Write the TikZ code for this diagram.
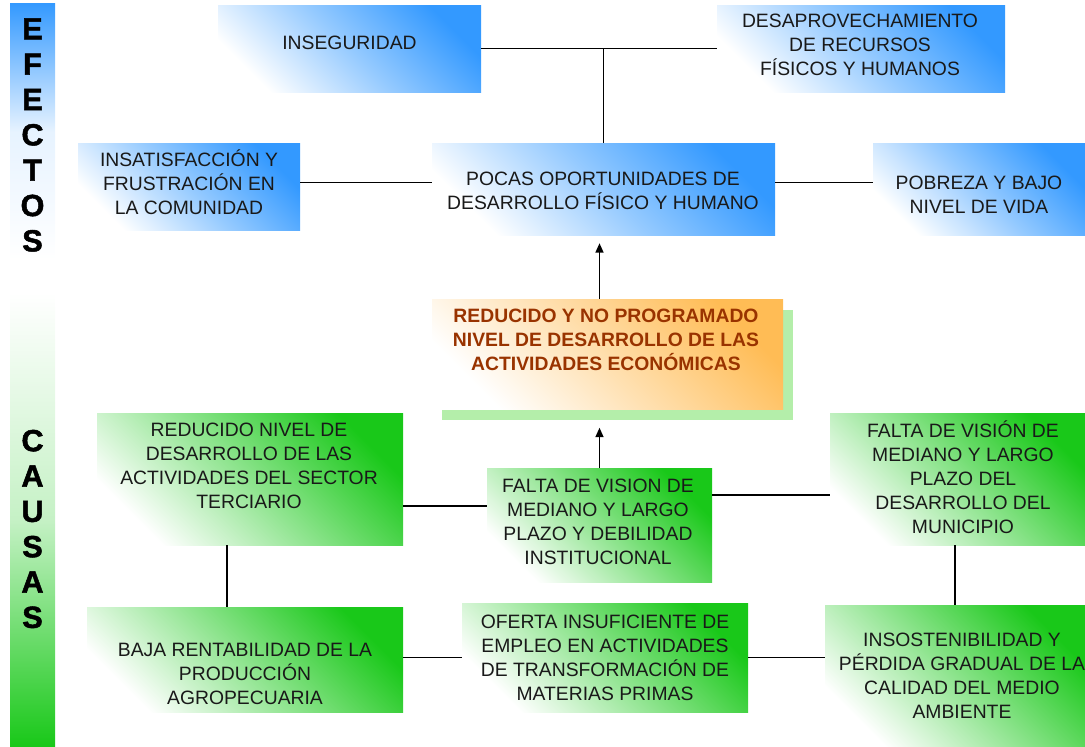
\documentclass[tikz,border=0pt]{standalone}
\usepackage{fontspec}
\setmainfont{Liberation Sans}
\newfontfamily\barfont[FakeBold=1.6]{Liberation Sans Bold}
\usetikzlibrary{arrows.meta,calc}
\definecolor{bxblue}{RGB}{51,153,255}
\definecolor{bxgreen}{RGB}{25,200,25}
\definecolor{bxorange}{RGB}{255,188,85}
\definecolor{shadowgreen}{RGB}{180,238,170}
\definecolor{titlered}{RGB}{153,51,0}
\definecolor{txtgray}{RGB}{25,25,25}
\begin{document}
\begin{tikzpicture}[x=0.75pt,y=-0.75pt,
  bluebox/.style={rectangle, inner sep=0pt, top color=bxblue, bottom color=white, middle color=bxblue!52, shading angle=-45},
  greenbox/.style={rectangle, inner sep=0pt, top color=bxgreen, bottom color=white, middle color=bxgreen!50, shading angle=-45},
  orangebox/.style={rectangle, inner sep=0pt, top color=bxorange, bottom color=white, middle color=bxorange!50, shading angle=-45},
  shadowbox/.style={rectangle, inner sep=0pt, fill=shadowgreen},
  txt/.style={align=center, inner sep=0pt, text=txtgray, font=\fontsize{14.5}{18}\selectfont},
  titletxt/.style={align=center, inner sep=0pt, text=titlered, font=\fontsize{14.5}{18}\selectfont\bfseries},
  barletters/.style={align=center, inner sep=0pt, text=black, font=\fontsize{23}{26.5}\selectfont\barfont},
  conn/.style={draw=black, line width=1pt},
  arr/.style={draw=black, line width=1pt, -{Triangle[length=7pt,width=6pt]}}
]
\useasboundingbox (0,0) rectangle (1085,746);

% side bars
\node[rectangle, inner sep=0pt, minimum width=33.75pt, minimum height=192.75pt,
  top color=bxblue, bottom color=white, middle color=bxblue!12] (efbar) at (32.5,131.5) {};
\node[rectangle, inner sep=0pt, minimum width=33.75pt, minimum height=339.75pt,
  top color=white, bottom color=bxgreen, middle color=bxgreen!25] (cabar) at (32.5,519.5) {};
\node[barletters] (eflab) at (32.5,135) {E\\F\\E\\C\\T\\O\\S};
\node[barletters] (calab) at (32.5,529) {C\\A\\U\\S\\A\\S};

% effects
\node[bluebox, minimum width=197.25pt, minimum height=65.25pt] (inseg) at (349.5,48.5) {};
\node[txt] (insegt) at (349.5,43) {INSEGURIDAD};
\node[bluebox, minimum width=216pt, minimum height=65.25pt] (desap) at (861,48.5) {};
\node[txt] (desapt) at (860,45) {DESAPROVECHAMIENTO\\DE RECURSOS\\FÍSICOS Y HUMANOS};
\node[bluebox, minimum width=166.5pt, minimum height=65.25pt] (insat) at (189,186.5) {};
\node[txt] (insatt) at (189,182) {INSATISFACCIÓN Y\\FRUSTRACIÓN EN\\LA COMUNIDAD};
\node[bluebox, minimum width=257.25pt, minimum height=69pt] (pocas) at (603.5,189) {};
\node[txt] (pocast) at (603,191) {POCAS OPORTUNIDADES DE\\DESARROLLO FÍSICO Y HUMANO};
\node[bluebox, minimum width=159pt, minimum height=69pt] (pobreza) at (979,189) {};
\node[txt] (pobrezat) at (979,195) {POBREZA Y BAJO\\NIVEL DE VIDA};

% central problem
\node[shadowbox, minimum width=263.25pt, minimum height=82.5pt] (ppalsh) at (617.5,364.5) {};
\node[orangebox, minimum width=263.25pt, minimum height=82.5pt] (ppal) at (607.5,354.5) {};
\node[titletxt] (ppalt) at (606,340) {REDUCIDO Y NO PROGRAMADO\\NIVEL DE DESARROLLO DE LAS\\ACTIVIDADES ECONÓMICAS};

% causes
\node[greenbox, minimum width=229.5pt, minimum height=99pt] (red) at (250,479) {};
\node[txt] (redt) at (249,466) {REDUCIDO NIVEL DE\\DESARROLLO DE LAS\\ACTIVIDADES DEL SECTOR\\TERCIARIO};
\node[greenbox, minimum width=168.75pt, minimum height=85.5pt] (fcen) at (599.5,525) {};
\node[txt] (fcent) at (598,522) {FALTA DE VISION DE\\MEDIANO Y LARGO\\PLAZO Y DEBILIDAD\\INSTITUCIONAL};
\node[greenbox, minimum width=191.25pt, minimum height=99pt] (fright) at (957.5,479) {};
\node[txt] (frightt) at (963,477.5) {FALTA DE VISIÓN DE\\MEDIANO Y LARGO\\PLAZO DEL\\DESARROLLO DEL\\MUNICIPIO};
\node[greenbox, minimum width=237pt, minimum height=78.75pt] (baja) at (245,659.5) {};
\node[txt] (bajat) at (245,673.5) {BAJA RENTABILIDAD DE LA\\PRODUCCIÓN\\AGROPECUARIA};
\node[greenbox, minimum width=214.5pt, minimum height=81.75pt] (oferta) at (605,657.5) {};
\node[txt] (ofertat) at (605,657.5) {OFERTA INSUFICIENTE DE\\EMPLEO EN ACTIVIDADES\\DE TRANSFORMACIÓN DE\\MATERIAS PRIMAS};
\node[greenbox, minimum width=195pt, minimum height=105.75pt] (insos) at (955,675.5) {};
\node[txt] (insost) at (962,676) {INSOSTENIBILIDAD Y\\PÉRDIDA GRADUAL DE LA\\CALIDAD DEL MEDIO\\AMBIENTE};

% connectors (effects)
\draw[conn] (inseg.east) -- (desap.west);
\draw[conn] (pocas.north) -- (pocas.north |- inseg.east);
\coordinate (e1) at ([yshift=5pt]pocas.west);
\draw[conn] (e1) -- (e1 -| insat.east);
\coordinate (e2) at ([yshift=5pt]pocas.east);
\draw[conn] (e2) -- (e2 -| pobreza.west);
\draw[arr, shorten >=6pt] (ppal.north -| fcen.north) -- (pocas.south -| fcen.north);

% connectors (causes)
\draw[arr, shorten >=13.5pt] (fcen.north) -- (ppal.south -| fcen.north);
\coordinate (l1) at ([yshift=14.25pt]fcen.west);
\draw[conn] (l1) -- (l1 -| red.east);
\coordinate (l2) at ([yshift=22.5pt]fcen.east);
\draw[conn] (l2) -- (l2 -| fright.west);
\coordinate (l3) at ([xshift=-17.25pt]red.south);
\draw[conn] (l3) -- (l3 |- baja.north);
\draw[conn] (insos.north) -- (insos.north |- fright.south);
\draw[conn] (oferta.west) -- (oferta.west -| baja.east);
\draw[conn] (oferta.east) -- (oferta.east -| insos.west);
\end{tikzpicture}
\end{document}
